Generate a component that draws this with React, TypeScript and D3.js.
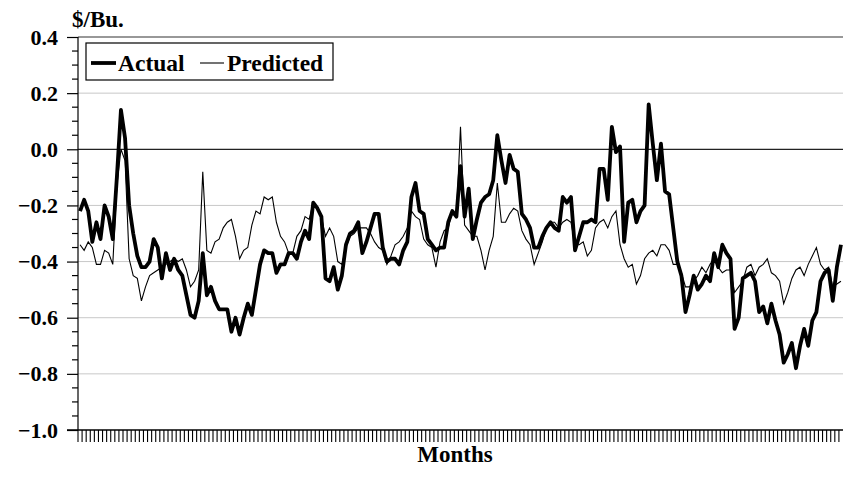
import React, { useEffect, useRef } from 'react'
import * as d3 from 'd3'

// monthly basis values, $/Bu.
const ACTUAL: number[] = [
  -0.22, -0.18, -0.22, -0.33, -0.26, -0.32, -0.20, -0.24, -0.32, -0.10, 0.14, 0.04, -0.20, -0.30, -0.38, -0.42, -0.42, -0.40, -0.32, -0.35,
  -0.46, -0.37, -0.43, -0.39, -0.43, -0.45, -0.52, -0.59, -0.60, -0.54, -0.37, -0.52, -0.49, -0.54, -0.57, -0.57, -0.57, -0.65,
  -0.60, -0.66, -0.60, -0.55, -0.59, -0.50, -0.41, -0.36, -0.37, -0.37, -0.44, -0.41, -0.41, -0.37, -0.37, -0.39, -0.33, -0.29, -0.32, -0.19,
  -0.21, -0.24, -0.46, -0.47, -0.42, -0.50, -0.45, -0.34, -0.30, -0.29, -0.26, -0.37, -0.33, -0.28, -0.23, -0.23, -0.35,
  -0.40, -0.39, -0.39, -0.41, -0.36, -0.33, -0.17, -0.12, -0.22, -0.23, -0.32, -0.34, -0.36, -0.35, -0.35, -0.26, -0.22, -0.24, -0.06, -0.24,
  -0.14, -0.32, -0.25, -0.19, -0.17, -0.16, -0.11, 0.05, -0.04, -0.12, -0.02, -0.07, -0.08, -0.23, -0.25, -0.28, -0.35, -0.35,
  -0.31, -0.28, -0.26, -0.28, -0.29, -0.17, -0.19, -0.17, -0.36, -0.31, -0.26, -0.26, -0.25, -0.26, -0.07, -0.07, -0.18, 0.08, -0.01, 0.01,
  -0.33, -0.19, -0.18, -0.26, -0.22, -0.20, 0.16, 0.02, -0.11, 0.02, -0.15, -0.16, -0.28, -0.40, -0.45, -0.58, -0.52, -0.45,
  -0.50, -0.48, -0.45, -0.47, -0.37, -0.42, -0.34, -0.37, -0.39, -0.64, -0.60, -0.46, -0.45, -0.44, -0.47, -0.58, -0.56, -0.62, -0.55, -0.61,
  -0.66, -0.76, -0.73, -0.69, -0.78, -0.70, -0.64, -0.70, -0.61, -0.58, -0.47, -0.44, -0.43, -0.54, -0.42, -0.34,
]

const PREDICTED: number[] = [
  -0.34, -0.36, -0.33, -0.35, -0.41, -0.41, -0.36, -0.37, -0.41, -0.13, 0.00, -0.04, -0.39, -0.45, -0.46, -0.54, -0.49, -0.45, -0.44, -0.43,
  -0.42, -0.41, -0.40, -0.39, -0.40, -0.39, -0.43, -0.49, -0.47, -0.43, -0.08, -0.36, -0.37, -0.33, -0.32, -0.28, -0.26, -0.25,
  -0.31, -0.39, -0.36, -0.35, -0.27, -0.22, -0.23, -0.17, -0.18, -0.17, -0.26, -0.31, -0.33, -0.37, -0.37, -0.31, -0.29, -0.24, -0.25, -0.19,
  -0.21, -0.24, -0.31, -0.28, -0.31, -0.40, -0.41, -0.35, -0.31, -0.30, -0.28, -0.28, -0.28, -0.30, -0.33, -0.35, -0.36,
  -0.41, -0.38, -0.34, -0.33, -0.31, -0.28, -0.22, -0.24, -0.25, -0.32, -0.34, -0.35, -0.42, -0.33, -0.29, -0.28, -0.22, -0.24, 0.08, -0.27,
  -0.29, -0.31, -0.31, -0.36, -0.43, -0.36, -0.31, -0.12, -0.26, -0.26, -0.23, -0.21, -0.22, -0.29, -0.32, -0.34, -0.41, -0.37,
  -0.33, -0.28, -0.26, -0.26, -0.28, -0.26, -0.25, -0.26, -0.34, -0.34, -0.33, -0.38, -0.36, -0.28, -0.26, -0.25, -0.28, -0.24, -0.22, -0.34,
  -0.39, -0.42, -0.41, -0.48, -0.45, -0.39, -0.37, -0.36, -0.38, -0.34, -0.34, -0.36, -0.41, -0.41, -0.44, -0.49, -0.49, -0.47,
  -0.45, -0.42, -0.44, -0.41, -0.39, -0.42, -0.44, -0.43, -0.43, -0.51, -0.49, -0.47, -0.42, -0.41, -0.45, -0.42, -0.41, -0.39, -0.44, -0.45,
  -0.47, -0.55, -0.51, -0.46, -0.43, -0.42, -0.45, -0.41, -0.38, -0.35, -0.41, -0.43, -0.42, -0.49, -0.48, -0.47,
]

const Y_TICKS = [0.4, 0.2, 0.0, -0.2, -0.4, -0.6, -0.8, -1.0]
const GRID_VALUES = [0.2, -0.2, -0.4, -0.6, -0.8]
const SERIES_NAMES = ['Actual', 'Predicted']

const W = 843
const H = 497
const FONT = '"Liberation Serif", "Times New Roman", serif'

export default function App() {
  const svgRef = useRef<SVGSVGElement | null>(null)

  useEffect(() => {
    if (!svgRef.current) return
    const svg = d3.select(svgRef.current)
    svg.selectAll('*').remove()

    const left = 78, right = 843, top = 37, bottom = 430
    const idx = d3.range(ACTUAL.length)

    const x = d3.scaleBand<number>().domain(idx).range([left, right]).paddingInner(0).paddingOuter(0)
    const cx = (i: number) => (x(i) as number) + x.bandwidth() / 2
    const y = d3.scaleLinear().domain([-1.0, 0.4]).range([bottom, top])

    // gridlines
    svg.append('g').selectAll('line').data(GRID_VALUES).join('line')
      .attr('x1', left).attr('x2', right)
      .attr('y1', d => y(d)).attr('y2', d => y(d))
      .attr('stroke', '#c8c8c8').attr('stroke-width', 1)
    svg.append('line').attr('x1', left).attr('x2', right).attr('y1', y(0)).attr('y2', y(0))
      .attr('stroke', '#222').attr('stroke-width', 1.2)
    svg.append('line').attr('x1', left).attr('x2', right).attr('y1', y(0.4)).attr('y2', y(0.4))
      .attr('stroke', '#333').attr('stroke-width', 1.2)

    // y axis
    const yAxis = svg.append('g').attr('transform', `translate(${left},0)`)
      .call(d3.axisLeft(y).tickValues(Y_TICKS).tickSize(11).tickFormat(d3.format('.1f')))
    yAxis.select('.domain').remove()
    yAxis.append('line').attr('x1', 0).attr('x2', 0).attr('y1', top).attr('y2', bottom)
      .attr('stroke', '#000').attr('stroke-width', 1.2)
    yAxis.selectAll('.tick line').attr('stroke', '#000').attr('stroke-width', 1.2)
    yAxis.selectAll('.tick text')
      .attr('x', -20).attr('font-size', 22).attr('font-weight', 'bold')
      .attr('font-family', FONT).attr('fill', '#000')
    // minor ticks every 0.05
    const minor = d3.range(-1.0, 0.4001, 0.05).filter(v => Math.abs(Math.round(v * 100) % 20) !== 0)
    yAxis.append('g').selectAll('line').data(minor).join('line')
      .attr('x1', -6).attr('x2', 0).attr('y1', d => y(d)).attr('y2', d => y(d))
      .attr('stroke', '#000').attr('stroke-width', 1.2)

    // x axis
    svg.append('line').attr('x1', left - 11).attr('x2', right).attr('y1', bottom).attr('y2', bottom)
      .attr('stroke', '#000').attr('stroke-width', 1.5)
    svg.append('g').selectAll('line').data(idx).join('line')
      .attr('x1', i => x(i) as number).attr('x2', i => x(i) as number)
      .attr('y1', bottom).attr('y2', bottom + 12)
      .attr('stroke', '#000').attr('stroke-width', 1.1)

    // series
    const line = d3.line<number>().x((_, i) => cx(i)).y(d => y(d))
    svg.append('path').datum(PREDICTED).attr('d', line)
      .attr('fill', 'none').attr('stroke', '#000').attr('stroke-width', 1.1)
    svg.append('path').datum(ACTUAL).attr('d', line)
      .attr('fill', 'none').attr('stroke', '#000').attr('stroke-width', 3.8)
      .attr('stroke-linejoin', 'round')

    // legend
    const lg = svg.append('g')
    lg.append('rect').attr('x', 86).attr('y', 43).attr('width', 247).attr('height', 37)
      .attr('fill', '#fff').attr('stroke', '#000').attr('stroke-width', 1.2)
    const legendItems = [
      { name: SERIES_NAMES[0], x1: 91, x2: 116, tx: 118, w: 3.8 },
      { name: SERIES_NAMES[1], x1: 200, x2: 224, tx: 227, w: 1.1 },
    ]
    legendItems.forEach(d => {
      lg.append('line').attr('x1', d.x1).attr('x2', d.x2).attr('y1', 63).attr('y2', 63)
        .attr('stroke', '#000').attr('stroke-width', d.w)
      lg.append('text').attr('x', d.tx).attr('y', 71).attr('font-size', 23.5)
        .attr('font-weight', 'bold').attr('font-family', FONT).text(d.name)
    })

    // titles
    svg.append('text').attr('x', 72).attr('y', 27).attr('font-size', 23)
      .attr('font-weight', 'bold').attr('font-family', FONT).text('$/Bu.')
    svg.append('text').attr('x', 455).attr('y', 462).attr('text-anchor', 'middle')
      .attr('font-size', 23).attr('font-weight', 'bold').attr('font-family', FONT).text('Months')
  }, [])

  return (
    <div style={{ position: 'absolute', left: 0, top: 0, width: W, height: H, background: '#fff' }}>
      <svg ref={svgRef} width={W} height={H} style={{ display: 'block' }} />
    </div>
  )
}
